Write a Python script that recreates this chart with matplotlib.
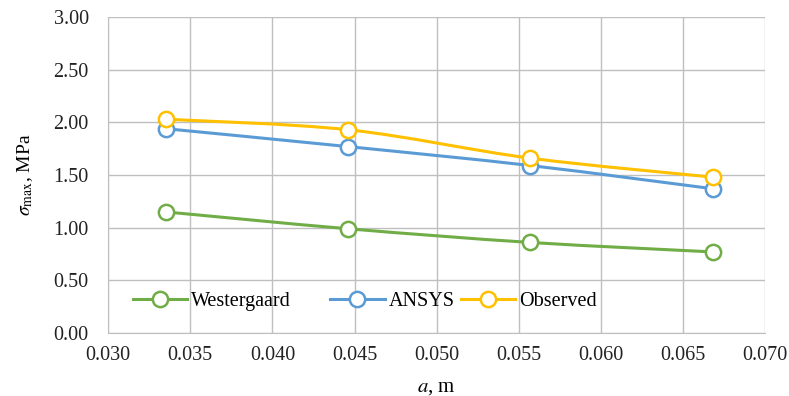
import matplotlib
matplotlib.use("Agg")
import matplotlib.pyplot as plt
import numpy as np
from matplotlib.path import Path
from matplotlib.patches import PathPatch
from matplotlib.legend import Legend

# crack length a (m) and max stress (MPa)
a = [0.0335, 0.0446, 0.0557, 0.0668]
westergaard = [1.15, 0.99, 0.86, 0.77]
ansys = [1.94, 1.77, 1.59, 1.37]
observed = [2.03, 1.93, 1.66, 1.48]

names = ["Westergaard", "ANSYS", "Observed"]
colors = ["#70AD47", "#5B9BD5", "#FFC000"]

plt.rcParams['font.family'] = ['Liberation Serif', 'DejaVu Serif']
plt.rcParams['mathtext.fontset'] = 'stix'

FS = 14.5


def smoothPath(x, y):
    # Excel-style smoothed line: cubic bezier with catmull-rom control points
    x = np.asarray(x, float)
    y = np.asarray(y, float)
    n = len(x)
    verts = [(x[0], y[0])]
    codes = [Path.MOVETO]
    for i in range(n - 1):
        x0, y0 = (x[i - 1], y[i - 1]) if i > 0 else (x[i], y[i])
        x3, y3 = (x[i + 2], y[i + 2]) if i + 2 < n else (x[i + 1], y[i + 1])
        c1 = (x[i] + (x[i + 1] - x0) / 6, y[i] + (y[i + 1] - y0) / 6)
        c2 = (x[i + 1] - (x3 - x[i]) / 6, y[i + 1] - (y3 - y[i]) / 6)
        verts += [c1, c2, (x[i + 1], y[i + 1])]
        codes += [Path.CURVE4] * 3
    return Path(verts, codes)


fig = plt.figure(figsize=(7.89, 3.96), dpi=100)
ax = fig.add_axes([0.137, 0.159, 0.833, 0.798])

handles = []
for ys, name, c in zip([westergaard, ansys, observed], names, colors):
    ax.add_patch(PathPatch(smoothPath(a, ys), fill=False, edgecolor=c, lw=2.2, zorder=3))
    ax.plot(a, ys, ls='none', marker='o', ms=11, mfc='white', mec=c, mew=1.8, zorder=4)
    h, = ax.plot([], [], color=c, lw=2.2, marker='o', ms=11, mfc='white', mec=c, mew=1.8)
    handles.append(h)

ax.set_xlim(0.030, 0.070)
ax.set_ylim(0, 3.0)
ax.set_xticks(np.arange(0.030, 0.0701, 0.005))
ax.set_yticks(np.arange(0, 3.01, 0.5))
ax.xaxis.set_major_formatter(plt.FormatStrFormatter('%.3f'))
ax.yaxis.set_major_formatter(plt.FormatStrFormatter('%.2f'))
ax.grid(True, color='#BFBFBF', lw=1.0)
ax.set_axisbelow(True)
for s in ['top', 'right']:
    ax.spines[s].set_visible(False)
for s in ['left', 'bottom']:
    ax.spines[s].set_color('#BFBFBF')
ax.tick_params(length=0, labelsize=FS, colors='#222222')
ax.tick_params(axis='x', pad=9)
ax.tick_params(axis='y', pad=14)

ax.set_xlabel(r'$a$, m', fontsize=FS + 0.5, labelpad=10)
ax.set_ylabel(r'$\sigma_{\rm max}$, MPa', fontsize=14, labelpad=13)

# Excel spaces legend entries unevenly, so one legend per entry
legend_x = [0.038, 0.338, 0.537]
for h, name, lx in zip(handles, names, legend_x):
    leg = Legend(ax, [h], [name], loc='center left', bbox_to_anchor=(lx, 0.099),
                 frameon=False, fontsize=FS, handlelength=2.7, handletextpad=0.2,
                 borderpad=0, borderaxespad=0)
    ax.add_artist(leg)

fig.savefig('out.png', dpi=100)
